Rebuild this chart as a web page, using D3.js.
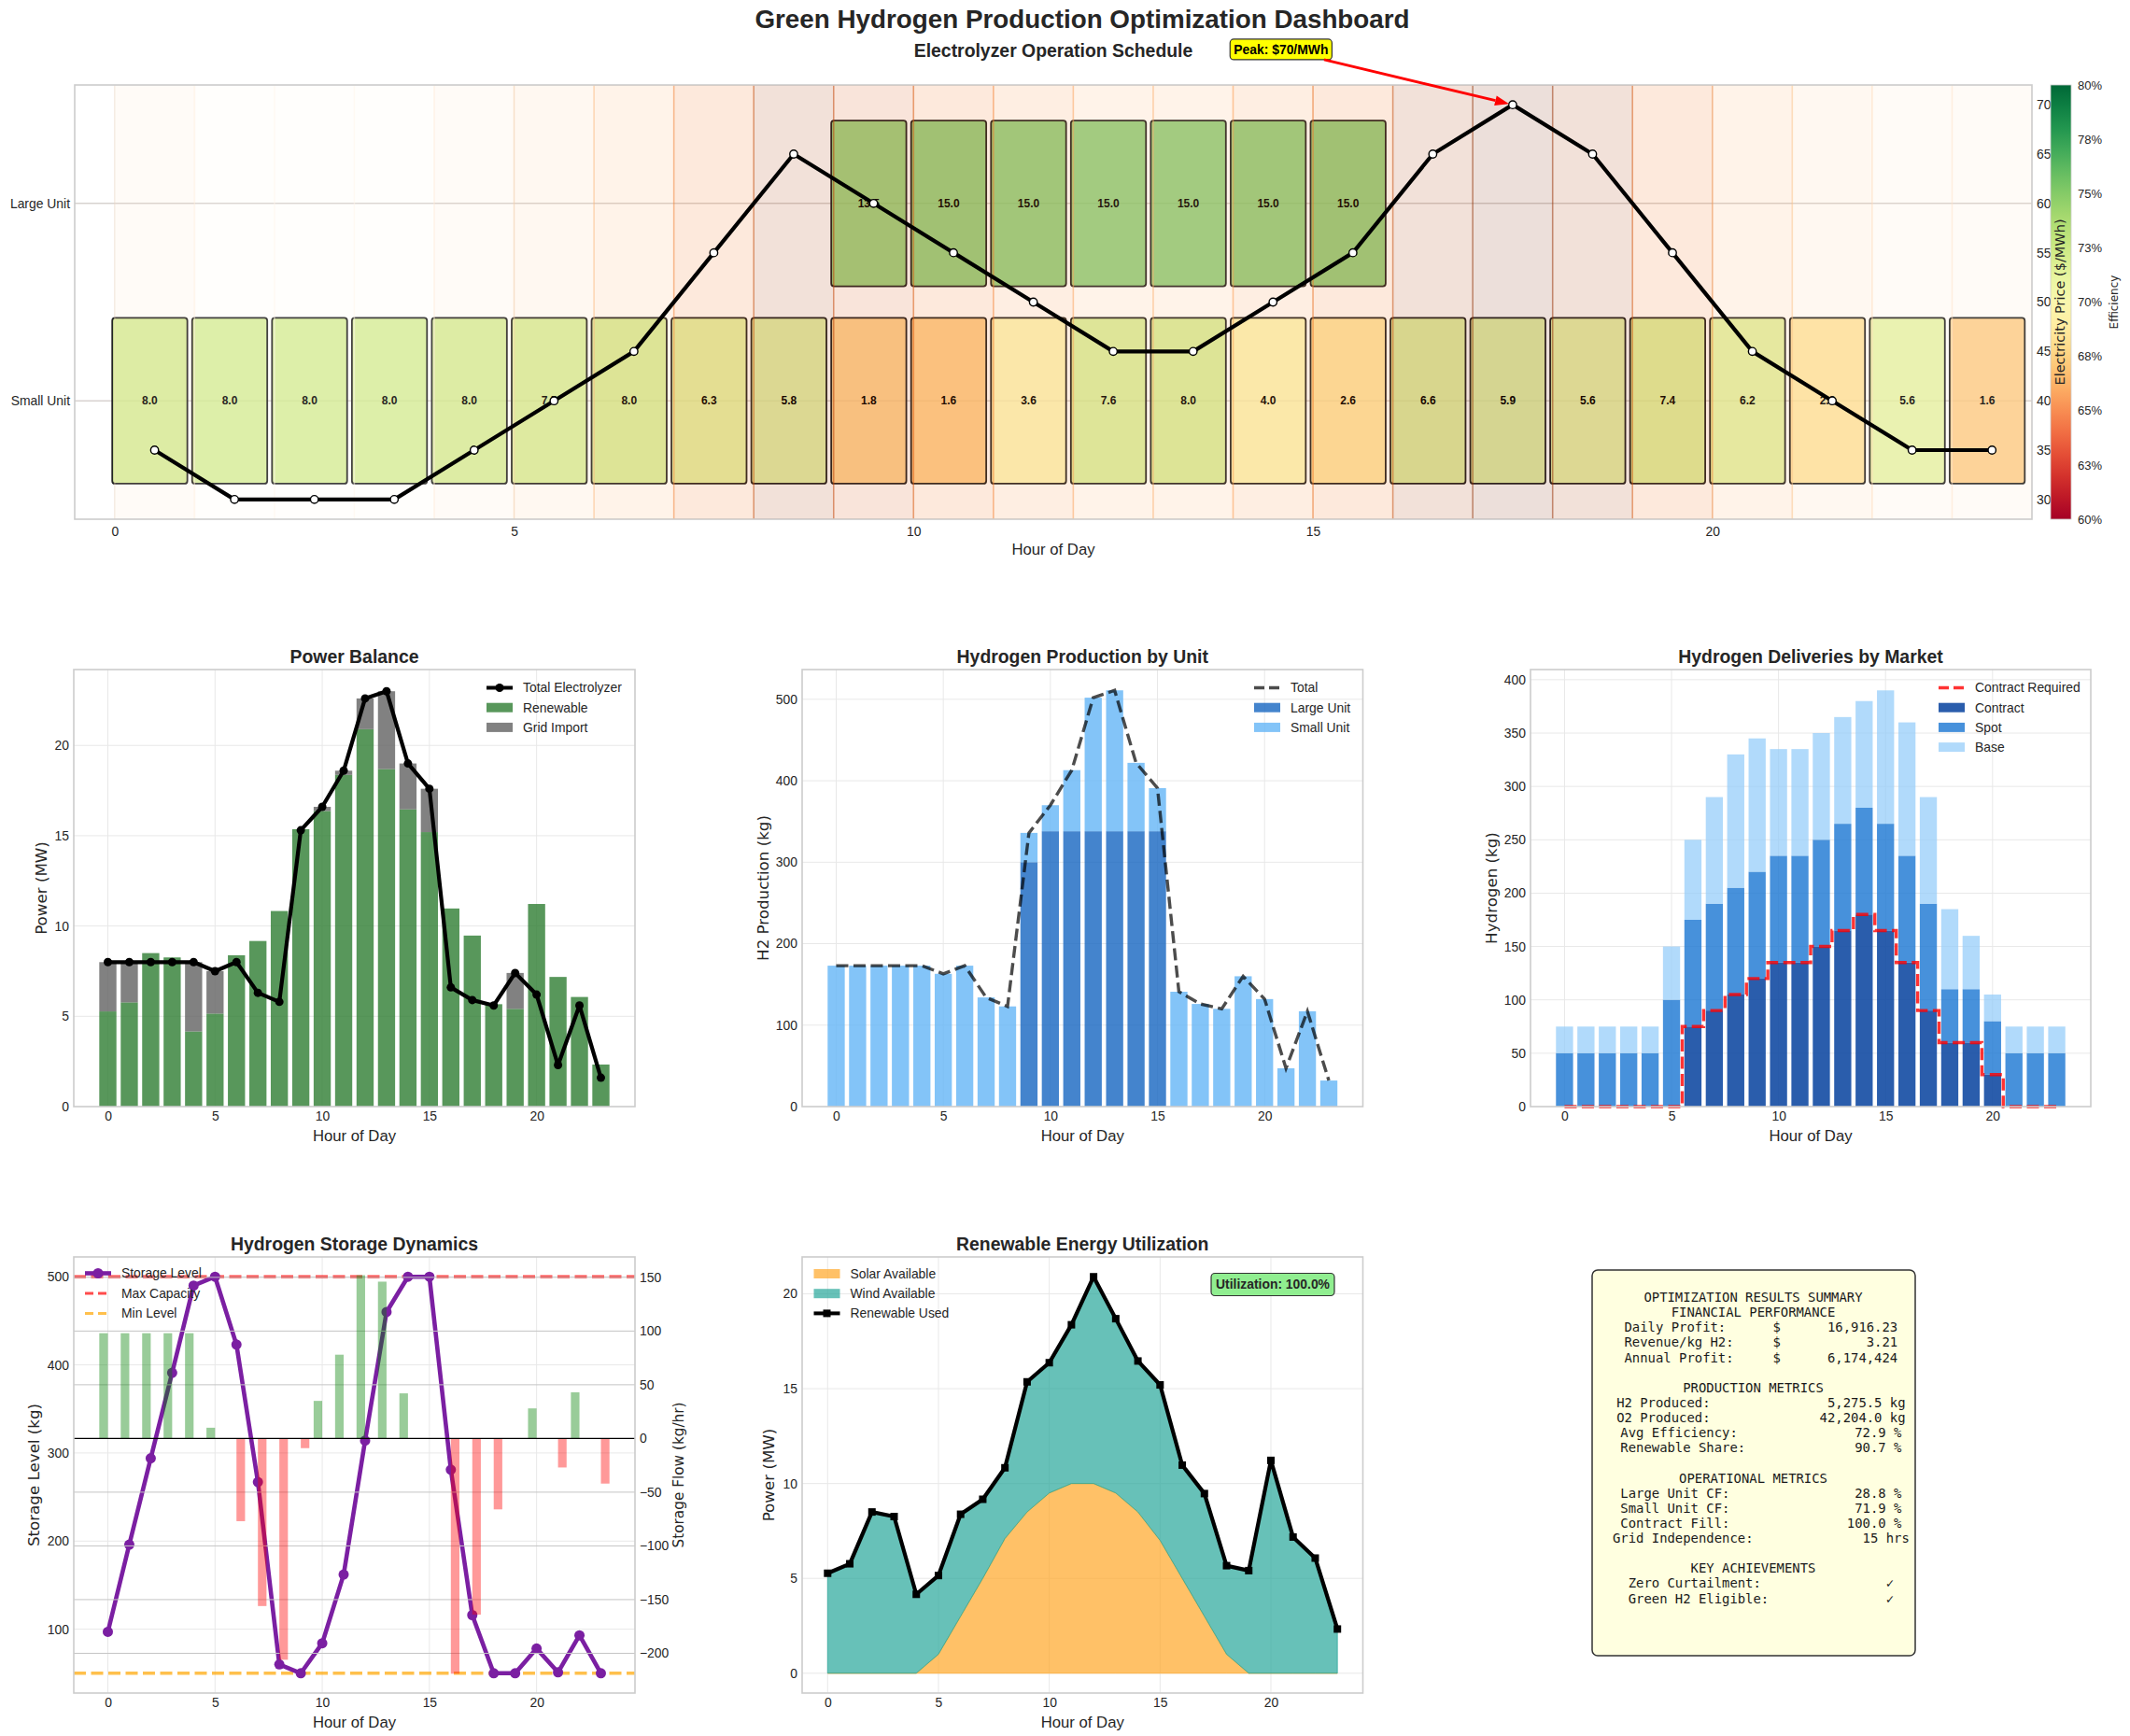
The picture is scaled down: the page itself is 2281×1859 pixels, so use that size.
<!DOCTYPE html>
<html>
<head>
<meta charset="utf-8">
<title>Green Hydrogen Production Optimization Dashboard</title>
<script src="https://cdn.jsdelivr.net/npm/d3@7"></script>
<style>
  body { margin: 0; background: #fff; }
  svg { display: block; }
  text { font-family: "Liberation Sans", Arial, sans-serif; fill: #262626; }
  .tick text { font-size: 13.9px; fill: #262626; }
  .ylab { font-family: "DejaVu Sans", sans-serif; font-size: 16.7px; }
  .xlab { font-size: 16.7px; }
  .ptitle { font-size: 19.4px; font-weight: bold; }
  .legend { font-size: 13.9px; }
  .mono { font-family: "DejaVu Sans Mono", monospace; font-size: 13.9px; white-space: pre; fill: #1a1a1a; }
</style>
</head>
<body>
<div id="chart"></div>
<script>
// ---------- data ----------
const hours = d3.range(24);
const price = [35,30,30,30,35,40,45,55,65,60,55,50,45,45,50,55,65,70,65,55,45,40,35,35];
const largePower = [0,0,0,0,0,0,0,0,0,13.5,15,15,15,15,15,15,0,0,0,0,0,0,0,0];
const smallPower = [8,8,8,8,8,7.5,8,6.3,5.8,1.8,1.6,3.6,7.6,8,4,2.6,6.6,5.9,5.6,7.4,6.2,2.3,5.6,1.6];
const largeEff = [null,null,null,null,null,null,null,null,null,75.0,75.4,75.4,75.4,75.4,75.4,75.4,null,null,null,null,null,null,null,null];
const smallEff = [72.4,72.4,72.4,72.4,72.4,72.3,72.4,71.8,71.6,67.2,67.0,69.6,72.3,72.4,69.7,68.3,71.9,71.7,71.5,72.2,71.8,68.2,71.5,67.0];

const renewable = [5.27,5.77,8.5,8.26,4.16,5.15,8.38,9.17,10.83,15.36,16.37,18.37,20.9,18.69,16.46,15.2,10.97,9.47,5.67,5.41,11.22,7.18,6.07,2.33];
const solar = [0,0,0,0,0,1.0,3.0,5.0,7.1,8.5,9.5,10,10,9.5,8.5,7.0,5.0,3.0,1.0,0,0,0,0,0];

const largeH2 = [0,0,0,0,0,0,0,0,0,300,338,338,338,338,338,338,0,0,0,0,0,0,0,0];
const smallH2 = [173,173,173,173,173,163,173,134,123,36,32,75,164,173,84,53,141,126,120,160,132,47,117,32];

const contract = [0,0,0,0,0,0,75,90,105,120,135,135,150,165,180,165,135,90,60,60,30,0,0,0];
const spot = [50,50,50,50,50,100,100,100,100,100,100,100,100,100,100,100,100,100,50,50,50,50,50,50];
const base = [25,25,25,25,25,50,75,100,125,125,100,100,100,100,100,125,125,100,75,50,25,25,25,25];
const contractRequired = [0,0,0,0,0,0,75,90,105,120,135,135,150,165,180,165,135,90,60,60,30,0,0,0];

const storageLevel = [97,196,294,391,490,500,423,267,60,50,84,162,314,460,500,500,281,116,50,50,78,51,93,50];
const storageFlow = [98,98,98,98,98,10,-77,-156,-206,-9,35,78,152,146,42,0,-219,-164,-66,0,28,-27,43,-42];
const storageMax = 500, storageMin = 50;

const effTicks = [60,62.5,65,67.5,70,72.5,75,77.5,80];
const hourTicks = [0,5,10,15,20];

const summaryLines = [
  "OPTIMIZATION RESULTS SUMMARY",
  "FINANCIAL PERFORMANCE",
  "  Daily Profit:      $      16,916.23",
  "  Revenue/kg H2:     $           3.21",
  "  Annual Profit:     $      6,174,424",
  "",
  "PRODUCTION METRICS",
  "  H2 Produced:               5,275.5 kg",
  "  O2 Produced:              42,204.0 kg",
  "  Avg Efficiency:               72.9 %",
  "  Renewable Share:              90.7 %",
  "",
  "OPERATIONAL METRICS",
  "  Large Unit CF:                28.8 %",
  "  Small Unit CF:                71.9 %",
  "  Contract Fill:               100.0 %",
  "  Grid Independence:              15 hrs",
  "",
  "KEY ACHIEVEMENTS",
  "  Zero Curtailment:                ✓",
  "  Green H2 Eligible:               ✓"
];

// ---------- setup ----------
const W = 2281, H = 1859;
const svg = d3.select("#chart").append("svg").attr("width", W).attr("height", H);
svg.append("rect").attr("width", W).attr("height", H).attr("fill", "#fff");
const defs = svg.append("defs");
let clipCount = 0;

function makeAxes(b, xDom, yDom) {
  const x = d3.scaleLinear().domain(xDom).range([b.x0, b.x1]);
  const y = d3.scaleLinear().domain(yDom).range([b.y1, b.y0]);
  const id = "clip" + (clipCount++);
  defs.append("clipPath").attr("id", id).append("rect")
    .attr("x", b.x0).attr("y", b.y0).attr("width", b.x1 - b.x0).attr("height", b.y1 - b.y0);
  const g = svg.append("g");
  return { b, x, y, g, clip: `url(#${id})` };
}

function gridLines(ax, xVals, yVals, yScale, color) {
  const g = ax.g.append("g").attr("stroke", color || "#e8e8e8").attr("stroke-width", 1);
  const ys = yScale || ax.y;
  (xVals || []).forEach(v => g.append("line").attr("x1", ax.x(v)).attr("x2", ax.x(v)).attr("y1", ax.b.y0).attr("y2", ax.b.y1));
  (yVals || []).forEach(v => g.append("line").attr("x1", ax.b.x0).attr("x2", ax.b.x1).attr("y1", ys(v)).attr("y2", ys(v)));
}

function cleanAxis(s) {
  s.select(".domain").remove();
  s.attr("font-family", null).attr("font-size", null);
}

function xAxis(ax, vals, pad) {
  ax.g.append("g").attr("transform", `translate(0,${ax.b.y1})`)
    .call(d3.axisBottom(ax.x).tickValues(vals).tickSize(0).tickPadding(pad || 5).tickFormat(d3.format("d")))
    .call(cleanAxis);
}
function yAxisLeft(ax, vals, fmt, scale) {
  ax.g.append("g").attr("transform", `translate(${ax.b.x0},0)`)
    .call(d3.axisLeft(scale || ax.y).tickValues(vals).tickSize(0).tickPadding(5).tickFormat(fmt || d3.format("d")))
    .call(cleanAxis);
}
function yAxisRight(ax, vals, fmt, scale, x) {
  ax.g.append("g").attr("transform", `translate(${x || ax.b.x1},0)`)
    .call(d3.axisRight(scale || ax.y).tickValues(vals).tickSize(0).tickPadding(5).tickFormat(fmt || d3.format("d")))
    .call(cleanAxis);
}
function frame(ax) {
  ax.g.append("rect").attr("x", ax.b.x0).attr("y", ax.b.y0)
    .attr("width", ax.b.x1 - ax.b.x0).attr("height", ax.b.y1 - ax.b.y0)
    .attr("fill", "none").attr("stroke", "#cccccc").attr("stroke-width", 1.6);
}
function labels(ax, title, xLabel, yLabel, yOff) {
  const cx = (ax.b.x0 + ax.b.x1) / 2, cy = (ax.b.y0 + ax.b.y1) / 2;
  if (title) ax.g.append("text").attr("class", "ptitle").attr("x", cx).attr("y", ax.b.y0 - 7.5).attr("text-anchor", "middle").text(title);
  if (xLabel) ax.g.append("text").attr("class", "xlab").attr("x", cx).attr("y", ax.b.y1 + 37).attr("text-anchor", "middle").text(xLabel);
  if (yLabel) ax.g.append("text").attr("class", "ylab").attr("text-anchor", "middle")
    .attr("transform", `translate(${ax.b.x0 - yOff},${cy}) rotate(-90)`).attr("dy", "0.35em").text(yLabel);
}
const minusFmt = d => (d < 0 ? "\u2212" + Math.abs(d) : String(d));

function legend(x0, y0, step, items) {
  const g = svg.append("g");
  items.forEach((it, i) => {
    const cy = y0 + i * step;
    if (it.type === "patch") {
      g.append("rect").attr("x", x0).attr("y", cy - 5).attr("width", 28).attr("height", 10)
        .attr("fill", it.color).attr("fill-opacity", it.opacity ?? 1);
    } else {
      g.append("line").attr("x1", x0).attr("x2", x0 + 28).attr("y1", cy).attr("y2", cy)
        .attr("stroke", it.color).attr("stroke-width", it.width || 4)
        .attr("stroke-opacity", it.opacity ?? 1)
        .attr("stroke-dasharray", it.dash || null);
      if (it.marker === "circle") g.append("circle").attr("cx", x0 + 14).attr("cy", cy).attr("r", it.r || 4.5).attr("fill", it.color);
      if (it.marker === "square") g.append("rect").attr("x", x0 + 10).attr("y", cy - 4).attr("width", 8).attr("height", 8).attr("fill", it.color);
    }
    g.append("text").attr("class", "legend").attr("x", x0 + 39).attr("y", cy + 4.9).text(it.label);
  });
}

// ---------- titles ----------
svg.append("text").attr("x", 1159).attr("y", 30).attr("text-anchor", "middle")
  .style("font-size", "27.8px").style("font-weight", "bold").text("Green Hydrogen Production Optimization Dashboard");

// ---------- top: electrolyzer schedule ----------
const topAx = makeAxes({ x0: 80, x1: 2176, y0: 91, y1: 556 }, [-0.5, 24], [-0.6, 1.6]);
const yPrice = d3.scaleLinear().domain([28, 72]).range([topAx.b.y1, topAx.b.y0]);
const bandColor = d3.scaleSequential(d3.interpolateOranges).domain([d3.min(price), d3.max(price)]);
const effColor = d3.scaleSequential(d3.interpolateRdYlGn).domain([60, 80]);

svg.append("text").attr("x", (topAx.b.x0 + topAx.b.x1) / 2).attr("y", 61).attr("text-anchor", "middle")
  .style("font-size", "19.4px").style("font-weight", "bold").text("Electrolyzer Operation Schedule");

gridLines(topAx, hourTicks, [], null, "#ececec");
gridLines(topAx, [], [0, 1], null, "#c4bcb8");

const units = [
  { name: "Small Unit", pos: 0, power: smallPower, eff: smallEff },
  { name: "Large Unit", pos: 1, power: largePower, eff: largeEff }
];
units.forEach(u => {
  const active = hours.filter(h => u.power[h] > 0);
  topAx.g.append("g").selectAll("rect").data(active).join("rect")
    .attr("x", h => topAx.x(h - 0.03)).attr("width", h => topAx.x(h + 0.91) - topAx.x(h - 0.03))
    .attr("y", topAx.y(u.pos + 0.42)).attr("height", topAx.y(u.pos - 0.42) - topAx.y(u.pos + 0.42))
    .attr("rx", 3)
    .attr("fill", h => effColor(u.eff[h])).attr("fill-opacity", 0.8)
    .attr("stroke", "#222").attr("stroke-width", 1.8);
  topAx.g.append("g").selectAll("text").data(active).join("text")
    .attr("x", h => topAx.x(h + 0.44)).attr("y", topAx.y(u.pos)).attr("dy", "0.35em")
    .attr("text-anchor", "middle").style("font-size", "12px").style("font-weight", "bold").style("fill", "#000")
    .text(h => u.power[h].toFixed(1));
});

// price shading sits over the bars
const bandG = topAx.g.append("g").attr("clip-path", topAx.clip);
bandG.selectAll("rect").data(hours).join("rect")
  .attr("x", h => topAx.x(h)).attr("width", h => topAx.x(h + 1) - topAx.x(h))
  .attr("y", topAx.b.y0).attr("height", topAx.b.y1 - topAx.b.y0)
  .attr("fill", h => bandColor(price[h])).attr("fill-opacity", 0.15)
  .attr("stroke", h => bandColor(price[h])).attr("stroke-opacity", 0.3).attr("stroke-width", 1.5);

const priceLine = d3.line().x(h => topAx.x(h + 0.5)).y(h => yPrice(price[h]));
topAx.g.append("path").datum(hours).attr("d", priceLine).attr("fill", "none")
  .attr("stroke", "#000").attr("stroke-width", 4.2).attr("stroke-linejoin", "round");
topAx.g.append("g").selectAll("circle").data(hours).join("circle")
  .attr("cx", h => topAx.x(h + 0.5)).attr("cy", h => yPrice(price[h])).attr("r", 4.2)
  .attr("fill", "#fff").attr("stroke", "#000").attr("stroke-width", 1.4);

xAxis(topAx, hourTicks, 8);
yAxisLeft(topAx, [0, 1], d => units.find(u => u.pos === d).name);
yAxisRight(topAx, [30, 35, 40, 45, 50, 55, 60, 65, 70], null, yPrice);
frame(topAx);
topAx.g.append("text").attr("class", "xlab").attr("x", (topAx.b.x0 + topAx.b.x1) / 2).attr("y", topAx.b.y1 + 38)
  .attr("text-anchor", "middle").text("Hour of Day");

// peak annotation
const peakH = d3.maxIndex(price);
const tx = topAx.x(peakH + 0.5 - 2.9), ty = yPrice(price[peakH] + 5.6);
const annG = svg.append("g");
const annText = annG.append("text").attr("x", tx).attr("y", ty).attr("dy", "0.35em").attr("text-anchor", "middle")
  .style("font-size", "13.9px").style("font-weight", "bold").style("fill", "#000").text(`Peak: $${price[peakH]}/MWh`);
const tw = annText.node().getComputedTextLength();
const bx0 = tx - tw / 2 - 4, bx1 = tx + tw / 2 + 4, by0 = ty - 11, by1 = ty + 11;
annG.insert("rect", "text").attr("x", bx0).attr("y", by0).attr("width", bx1 - bx0).attr("height", by1 - by0)
  .attr("rx", 4).attr("fill", "#ffff00").attr("stroke", "#333").attr("stroke-width", 1.2);
{
  const px = topAx.x(peakH + 0.5), py = yPrice(price[peakH]);
  const dx = px - tx, dy = py - ty;
  const t = Math.min((bx1 - tx) / Math.abs(dx), (by1 - ty) / Math.abs(dy));
  const sx = tx + dx * t, sy = ty + dy * t;
  const len = Math.hypot(px - sx, py - sy), ux = (px - sx) / len, uy = (py - sy) / len;
  const ex = px - ux * 4, ey = py - uy * 4;
  const hx = ex - ux * 15, hy = ey - uy * 15;
  annG.append("line").attr("x1", sx).attr("y1", sy).attr("x2", hx).attr("y2", hy)
    .attr("stroke", "#ff0000").attr("stroke-width", 2.8);
  annG.append("path").attr("d", `M${ex},${ey}L${hx - uy * 5.5},${hy + ux * 5.5}L${hx + uy * 5.5},${hy - ux * 5.5}Z`).attr("fill", "#ff0000");
}

// colorbar
const cb = { x0: 2196, x1: 2218, y0: 91, y1: 556 };
const grad = defs.append("linearGradient").attr("id", "effGrad").attr("x1", 0).attr("x2", 0).attr("y1", 1).attr("y2", 0);
d3.range(0, 1.0001, 0.05).forEach(t => grad.append("stop").attr("offset", t).attr("stop-color", d3.interpolateRdYlGn(t)));
svg.append("rect").attr("x", cb.x0).attr("y", cb.y0).attr("width", cb.x1 - cb.x0).attr("height", cb.y1 - cb.y0)
  .attr("fill", "url(#effGrad)").attr("stroke", "#ccc").attr("stroke-width", 0.8);
const yEff = d3.scaleLinear().domain([60, 80]).range([cb.y1, cb.y0]);
svg.append("g").attr("transform", `translate(${cb.x1},0)`)
  .call(d3.axisRight(yEff).tickValues(effTicks).tickSize(0).tickPadding(7).tickFormat(d => Math.round(d) + "%"))
  .call(cleanAxis).selectAll("text").style("font-size", "13px");
svg.append("text").attr("class", "ylab").style("font-size", "12px")
  .attr("transform", `translate(2264,${(cb.y0 + cb.y1) / 2}) rotate(-90)`).attr("dy", "0.35em")
  .attr("text-anchor", "middle").text("Efficiency");
svg.append("text").attr("class", "ylab").style("font-size", "14.5px")
  .attr("transform", `translate(2206,${(cb.y0 + cb.y1) / 2}) rotate(-90)`).attr("dy", "0.35em")
  .attr("text-anchor", "middle").text("Electricity Price ($/MWh)");

// ---------- power balance ----------
const totalPower = hours.map(h => largePower[h] + smallPower[h]);
const gridImport = hours.map(h => Math.max(0, totalPower[h] - renewable[h]));
const pb = makeAxes({ x0: 79, x1: 680, y0: 717, y1: 1185 }, [-1.59, 24.59], [0, 24.2]);
gridLines(pb, hourTicks, [5, 10, 15, 20]);
pb.g.append("g").selectAll("rect").data(hours).join("rect")
  .attr("x", h => pb.x(h - 0.4)).attr("width", pb.x(0.8) - pb.x(0))
  .attr("y", h => pb.y(renewable[h])).attr("height", h => pb.y(0) - pb.y(renewable[h]))
  .attr("fill", "#2E7D32").attr("fill-opacity", 0.8);
pb.g.append("g").selectAll("rect").data(hours.filter(h => gridImport[h] > 0)).join("rect")
  .attr("x", h => pb.x(h - 0.4)).attr("width", pb.x(0.8) - pb.x(0))
  .attr("y", h => pb.y(renewable[h] + gridImport[h])).attr("height", h => pb.y(renewable[h]) - pb.y(renewable[h] + gridImport[h]))
  .attr("fill", "#616161").attr("fill-opacity", 0.8);
pb.g.append("path").datum(hours).attr("fill", "none").attr("stroke", "#000").attr("stroke-width", 4.2)
  .attr("stroke-linejoin", "round").attr("d", d3.line().x(h => pb.x(h)).y(h => pb.y(totalPower[h])));
pb.g.append("g").selectAll("circle").data(hours).join("circle")
  .attr("cx", h => pb.x(h)).attr("cy", h => pb.y(totalPower[h])).attr("r", 4.5).attr("fill", "#000");
xAxis(pb, hourTicks); yAxisLeft(pb, [0, 5, 10, 15, 20]);
frame(pb);
labels(pb, "Power Balance", "Hour of Day", "Power (MW)", 35);
legend(521, 736.5, 21.2, [
  { type: "line", color: "#000", marker: "circle", label: "Total Electrolyzer" },
  { type: "patch", color: "#2E7D32", opacity: 0.8, label: "Renewable" },
  { type: "patch", color: "#616161", opacity: 0.8, label: "Grid Import" }
]);

// ---------- hydrogen production ----------
const h2 = makeAxes({ x0: 859, x1: 1459.5, y0: 717, y1: 1185 }, [-1.59, 24.59], [0, 536.5]);
gridLines(h2, hourTicks, [100, 200, 300, 400, 500]);
h2.g.append("g").selectAll("rect").data(hours.filter(h => largeH2[h] > 0)).join("rect")
  .attr("x", h => h2.x(h - 0.4)).attr("width", h2.x(0.8) - h2.x(0))
  .attr("y", h => h2.y(largeH2[h])).attr("height", h => h2.y(0) - h2.y(largeH2[h]))
  .attr("fill", "#1565C0").attr("fill-opacity", 0.8);
h2.g.append("g").selectAll("rect").data(hours).join("rect")
  .attr("x", h => h2.x(h - 0.4)).attr("width", h2.x(0.8) - h2.x(0))
  .attr("y", h => h2.y(largeH2[h] + smallH2[h])).attr("height", h => h2.y(largeH2[h]) - h2.y(largeH2[h] + smallH2[h]))
  .attr("fill", "#64B5F6").attr("fill-opacity", 0.8);
h2.g.append("path").datum(hours).attr("fill", "none").attr("stroke", "#000").attr("stroke-opacity", 0.7)
  .attr("stroke-width", 3.4).attr("stroke-dasharray", "13,5.5")
  .attr("d", d3.line().x(h => h2.x(h)).y(h => h2.y(largeH2[h] + smallH2[h])));
xAxis(h2, hourTicks); yAxisLeft(h2, [0, 100, 200, 300, 400, 500]);
frame(h2);
labels(h2, "Hydrogen Production by Unit", "Hour of Day", "H2 Production (kg)", 42);
legend(1343, 736.5, 21.2, [
  { type: "line", color: "#000", opacity: 0.7, width: 3.4, dash: "11,5", label: "Total" },
  { type: "patch", color: "#1565C0", opacity: 0.8, label: "Large Unit" },
  { type: "patch", color: "#64B5F6", opacity: 0.8, label: "Small Unit" }
]);

// ---------- deliveries ----------
const dl = makeAxes({ x0: 1639, x1: 2239, y0: 717, y1: 1185 }, [-1.59, 24.59], [0, 409.5]);
gridLines(dl, hourTicks, [50, 100, 150, 200, 250, 300, 350, 400]);
const stacks = [
  { name: "Contract", vals: contract, color: "#0D47A1", op: 0.88 },
  { name: "Spot", vals: spot, color: "#1976D2", op: 0.8 },
  { name: "Base", vals: base, color: "#90CAF9", op: 0.7 }
];
const cum = hours.map(() => 0);
stacks.forEach(s => {
  const lo = cum.slice();
  hours.forEach(h => { cum[h] += s.vals[h]; });
  const hi = cum.slice();
  dl.g.append("g").selectAll("rect").data(hours.filter(h => s.vals[h] > 0)).join("rect")
    .attr("x", h => dl.x(h - 0.4)).attr("width", dl.x(0.8) - dl.x(0))
    .attr("y", h => dl.y(hi[h])).attr("height", h => dl.y(lo[h]) - dl.y(hi[h]))
    .attr("fill", s.color).attr("fill-opacity", s.op);
});
dl.g.append("path").datum(hours).attr("fill", "none").attr("stroke", "#ff0000").attr("stroke-opacity", 0.8)
  .attr("stroke-width", 3.4).attr("stroke-dasharray", "13,5.5")
  .attr("d", d3.line().curve(d3.curveStep).x(h => dl.x(h)).y(h => dl.y(contractRequired[h])));
xAxis(dl, hourTicks); yAxisLeft(dl, [0, 50, 100, 150, 200, 250, 300, 350, 400]);
frame(dl);
labels(dl, "Hydrogen Deliveries by Market", "Hour of Day", "Hydrogen (kg)", 42);
legend(2076, 736.5, 21.2, [
  { type: "line", color: "#ff0000", opacity: 0.8, width: 3.4, dash: "11,5", label: "Contract Required" },
  ...stacks.map(s => ({ type: "patch", color: s.color, opacity: s.op, label: s.name }))
]);

// ---------- storage dynamics ----------
const st = makeAxes({ x0: 79, x1: 680, y0: 1346, y1: 1813 }, [-1.59, 24.59], [27.5, 522.5]);
const yFlow = d3.scaleLinear().domain([-237, 169]).range([st.b.y1, st.b.y0]);
gridLines(st, hourTicks, [100, 200, 300, 400, 500]);
st.g.append("line").attr("x1", st.b.x0).attr("x2", st.b.x1).attr("y1", st.y(storageMax)).attr("y2", st.y(storageMax))
  .attr("stroke", "#ff0000").attr("stroke-opacity", 0.7).attr("stroke-width", 3.4).attr("stroke-dasharray", "13,5.5");
st.g.append("line").attr("x1", st.b.x0).attr("x2", st.b.x1).attr("y1", st.y(storageMin)).attr("y2", st.y(storageMin))
  .attr("stroke", "#ffa500").attr("stroke-opacity", 0.7).attr("stroke-width", 3.4).attr("stroke-dasharray", "13,5.5");
st.g.append("path").datum(hours).attr("fill", "none").attr("stroke", "#7B1FA2").attr("stroke-width", 4.6)
  .attr("stroke-linejoin", "round").attr("d", d3.line().x(h => st.x(h)).y(h => st.y(storageLevel[h])));
st.g.append("g").selectAll("circle").data(hours).join("circle")
  .attr("cx", h => st.x(h)).attr("cy", h => st.y(storageLevel[h])).attr("r", 5.5).attr("fill", "#7B1FA2");
legend(91, 1363.5, 21.5, [
  { type: "line", color: "#7B1FA2", width: 4.6, marker: "circle", r: 5.5, label: "Storage Level" },
  { type: "line", color: "#ff0000", opacity: 0.7, width: 2.8, dash: "9,5", label: "Max Capacity" },
  { type: "line", color: "#ffa500", opacity: 0.7, width: 2.8, dash: "9,5", label: "Min Level" }
]);
gridLines(st, [], [-200, -150, -100, -50, 50, 100, 150], yFlow, "#c4c4c4");
st.g.append("g").selectAll("rect").data(hours.filter(h => storageFlow[h] > 0)).join("rect")
  .attr("x", h => st.x(h - 0.4)).attr("width", st.x(0.4) - st.x(0))
  .attr("y", h => yFlow(storageFlow[h])).attr("height", h => yFlow(0) - yFlow(storageFlow[h]))
  .attr("fill", "green").attr("fill-opacity", 0.4);
st.g.append("g").selectAll("rect").data(hours.filter(h => storageFlow[h] < 0)).join("rect")
  .attr("x", h => st.x(h)).attr("width", st.x(0.4) - st.x(0))
  .attr("y", yFlow(0)).attr("height", h => yFlow(storageFlow[h]) - yFlow(0))
  .attr("fill", "red").attr("fill-opacity", 0.4);
st.g.append("line").attr("x1", st.b.x0).attr("x2", st.b.x1).attr("y1", yFlow(0)).attr("y2", yFlow(0))
  .attr("stroke", "#000").attr("stroke-width", 1.1);
xAxis(st, hourTicks); yAxisLeft(st, [100, 200, 300, 400, 500]);
yAxisRight(st, [-200, -150, -100, -50, 0, 50, 100, 150], minusFmt, yFlow);
frame(st);
labels(st, "Hydrogen Storage Dynamics", "Hour of Day", "Storage Level (kg)", 43);
st.g.append("text").attr("class", "ylab").style("font-size", "15.3px").attr("text-anchor", "middle")
  .attr("transform", `translate(${st.b.x1 + 47},${(st.b.y0 + st.b.y1) / 2}) rotate(-90)`).attr("dy", "0.35em")
  .text("Storage Flow (kg/hr)");

// ---------- renewable utilization ----------
const re = makeAxes({ x0: 859, x1: 1459.5, y0: 1346, y1: 1813 }, [-1.15, 24.15], [-1.045, 21.945]);
gridLines(re, hourTicks, [0, 5, 10, 15, 20]);
re.g.append("path").datum(hours).attr("fill", "#FFA726").attr("fill-opacity", 0.7)
  .attr("stroke", "#FFA726").attr("stroke-opacity", 0.7).attr("stroke-width", 1)
  .attr("d", d3.area().x(h => re.x(h)).y0(re.y(0)).y1(h => re.y(solar[h])));
re.g.append("path").datum(hours).attr("fill", "#26A69A").attr("fill-opacity", 0.7)
  .attr("stroke", "#26A69A").attr("stroke-opacity", 0.7).attr("stroke-width", 1)
  .attr("d", d3.area().x(h => re.x(h)).y0(h => re.y(solar[h])).y1(h => re.y(renewable[h])));
re.g.append("path").datum(hours).attr("fill", "none").attr("stroke", "#000").attr("stroke-width", 4.2)
  .attr("stroke-linejoin", "round").attr("d", d3.line().x(h => re.x(h)).y(h => re.y(renewable[h])));
re.g.append("g").selectAll("rect").data(hours).join("rect")
  .attr("x", h => re.x(h) - 4).attr("y", h => re.y(renewable[h]) - 4).attr("width", 8).attr("height", 8).attr("fill", "#000");
xAxis(re, hourTicks); yAxisLeft(re, [0, 5, 10, 15, 20]);
frame(re);
labels(re, "Renewable Energy Utilization", "Hour of Day", "Power (MW)", 36);
legend(871.5, 1364, 21.2, [
  { type: "patch", color: "#FFA726", opacity: 0.7, label: "Solar Available" },
  { type: "patch", color: "#26A69A", opacity: 0.7, label: "Wind Available" },
  { type: "line", color: "#000", marker: "square", label: "Renewable Used" }
]);
{
  const used = d3.sum(renewable), avail = d3.sum(renewable);
  const g = re.g.append("g");
  const t = g.append("text").attr("x", re.b.x1 - 96.5).attr("y", re.b.y0 + 29.5).attr("dy", "0.35em")
    .attr("text-anchor", "middle").style("font-size", "13.9px").style("font-weight", "bold")
    .text(`Utilization: ${(100 * used / avail).toFixed(1)}%`);
  const w = t.node().getComputedTextLength();
  g.insert("rect", "text").attr("x", re.b.x1 - 96.5 - w / 2 - 5).attr("y", re.b.y0 + 17.5)
    .attr("width", w + 10).attr("height", 24).attr("rx", 4)
    .attr("fill", "#90EE90").attr("stroke", "#333").attr("stroke-width", 1.2);
}

// ---------- summary ----------
const sb = { x0: 1705, x1: 2051, y0: 1360, y1: 1773 };
svg.append("rect").attr("x", sb.x0).attr("y", sb.y0).attr("width", sb.x1 - sb.x0).attr("height", sb.y1 - sb.y0)
  .attr("rx", 6).attr("fill", "#FFFFE0").attr("stroke", "#333").attr("stroke-width", 1.5);
svg.append("g").selectAll("text").data(summaryLines).join("text")
  .attr("class", "mono").attr("xml:space", "preserve")
  .attr("x", 1877.5).attr("y", (d, i) => 1394 + i * 16.13).attr("text-anchor", "middle")
  .text(d => d);
</script>
</body>
</html>
